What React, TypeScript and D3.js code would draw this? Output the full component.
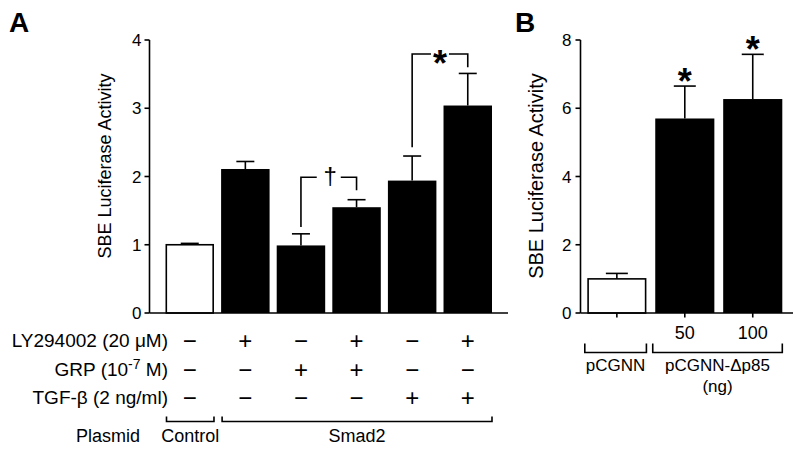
import React from 'react';
import * as d3 from 'd3';

// ---------- Panel A data ----------
const conditionsA = ['Control', 'LY', 'GRP', 'LY+GRP', 'TGF', 'LY+TGF'];
const valuesA = [1.0, 2.11, 0.99, 1.55, 1.94, 3.04];
const errorsA = [0.02, 0.11, 0.17, 0.11, 0.36, 0.47];
const filledA = [false, true, true, true, true, true];
const ticksA = [0, 1, 2, 3, 4];
const lyRow = ['−', '+', '−', '+', '−', '+'];
const grpRow = ['−', '−', '+', '+', '−', '−'];
const tgfRow = ['−', '−', '−', '−', '+', '+'];
const groupsA = [
  { label: 'Control', from: 0, to: 0 },
  { label: 'Smad2', from: 1, to: 5 },
];
const sigA = [
  { a: 2, b: 3, top: 1.99, endA: 1.26, endB: 1.8, mark: '†' },
  { a: 4, b: 5, top: 3.795, endA: 2.43, endB: 3.6, mark: '*' },
];

// ---------- Panel B data ----------
const conditionsB = ['pCGNN', '50', '100'];
const tickLabelsB = ['', '50', '100'];
const valuesB = [1.0, 5.7, 6.27];
const errorsB = [0.16, 0.95, 1.31];
const filledB = [false, true, true];
const starredB = [false, true, true];
const ticksB = [0, 2, 4, 6, 8];
const groupsB = [
  { label: ['pCGNN'], from: 0, to: 0 },
  { label: ['pCGNN-Δp85', '(ng)'], from: 1, to: 2 },
];

const FONT = '"Liberation Sans", Arial, Helvetica, sans-serif';
const SW = 1.6;

export default function App() {
  const W = 800;
  const H = 452;

  // Panel A scales
  const yA = d3.scaleLinear().domain([0, 4]).range([313, 40]);
  const xA = d3
    .scaleBand<number>()
    .domain(d3.range(conditionsA.length))
    .range([165.5, 492])
    .paddingInner(0.128)
    .paddingOuter(0);
  const axA = 149.5;
  const bwA = xA.bandwidth();
  const cA = (i: number) => (xA(i) as number) + bwA / 2;

  // Panel B scales
  const yB = d3.scaleLinear().domain([0, 8]).range([313, 40]);
  const xB = d3
    .scaleBand<number>()
    .domain(d3.range(conditionsB.length))
    .range([587.3, 782.3])
    .paddingInner(0.13)
    .paddingOuter(0);
  const axB = 580.5;
  const bwB = xB.bandwidth();
  const cB = (i: number) => (xB(i) as number) + bwB / 2;

  const rowsA = [
    { label: 'LY294002 (20 μM)', vals: lyRow, y: 347 },
    { label: null, vals: grpRow, y: 375.5 },
    { label: 'TGF-β (2 ng/ml)', vals: tgfRow, y: 403.5 },
  ];

  return (
    <svg
      width={W}
      height={H}
      style={{ position: 'absolute', left: 0, top: 0, background: '#fff' }}
      fontFamily={FONT}
    >
      <rect x={0} y={0} width={W} height={H} fill="#fff" />

      {/* ================= Panel A ================= */}
      <text x={9} y={32} fontSize={28} fontWeight="bold">A</text>

      {/* y axis */}
      <line x1={axA} x2={axA} y1={yA(4)} y2={yA(0)} stroke="#000" strokeWidth={SW} />
      {ticksA.map((t) => (
        <g key={'ta' + t}>
          <line x1={axA - 5} x2={axA} y1={yA(t)} y2={yA(t)} stroke="#000" strokeWidth={SW} />
          <text x={axA - 8} y={yA(t)} dy="0.36em" textAnchor="end" fontSize={17}>{t}</text>
        </g>
      ))}
      <text
        transform={`translate(111,166) rotate(-90)`}
        textAnchor="middle"
        fontSize={18}
      >
        SBE Luciferase Activity
      </text>

      {/* bars */}
      {valuesA.map((v, i) => (
        <g key={'ba' + i}>
          <line x1={cA(i)} x2={cA(i)} y1={yA(v)} y2={yA(v + errorsA[i])} stroke="#000" strokeWidth={SW} />
          <line x1={cA(i) - 9} x2={cA(i) + 9} y1={yA(v + errorsA[i])} y2={yA(v + errorsA[i])} stroke="#000" strokeWidth={SW} />
          <rect
            x={(xA(i) as number) + (filledA[i] ? 0 : SW / 2)}
            y={yA(v)}
            width={bwA - (filledA[i] ? 0 : SW)}
            height={yA(0) - yA(v)}
            fill={filledA[i] ? '#000' : '#fff'}
            stroke="#000"
            strokeWidth={filledA[i] ? 0 : SW}
          />
        </g>
      ))}
      {/* x axis */}
      <line x1={axA} x2={508} y1={yA(0)} y2={yA(0)} stroke="#000" strokeWidth={SW} />

      {/* significance brackets */}
      {sigA.map((s, k) => {
        const xa = cA(s.a);
        const xb = cA(s.b);
        const mid = (xa + xb) / 2;
        const gap = s.mark === '*' ? 9 : 12;
        const yt = yA(s.top);
        return (
          <g key={'sig' + k} fill="none" stroke="#000" strokeWidth={SW}>
            <polyline points={`${xa},${yA(s.endA)} ${xa},${yt} ${mid - gap},${yt}`} />
            <polyline points={`${mid + gap},${yt} ${xb},${yt} ${xb},${yA(s.endB)}`} />
            {s.mark === '*' ? (
              <text x={mid} y={yt + 22} textAnchor="middle" fontSize={36} fontWeight="bold" fill="#000" stroke="none">*</text>
            ) : (
              <text x={mid + 1.5} y={yt + 7} textAnchor="middle" fontSize={24} fill="#000" stroke="none">†</text>
            )}
          </g>
        );
      })}

      {/* condition table */}
      {rowsA.map((r, k) => (
        <g key={'row' + k} fontSize={19}>
          {r.label !== null ? (
            <text x={168} y={r.y} textAnchor="end">{r.label}</text>
          ) : (
            <text x={168} y={r.y} textAnchor="end">
              GRP (10
              <tspan dy={-7} fontSize={14}>-7</tspan>
              <tspan dy={7}> M)</tspan>
            </text>
          )}
          {r.vals.map((s, i) => (
            <text key={i} x={cA(i)} y={r.y + 2} textAnchor="middle" fontSize={24}>{s}</text>
          ))}
        </g>
      ))}

      {/* plasmid groups */}
      <text x={140} y={442} textAnchor="end" fontSize={18}>Plasmid</text>
      {groupsA.map((g, k) => {
        const x1 = (xA(g.from) as number) + 1;
        const x2 = (xA(g.to) as number) + bwA;
        return (
          <g key={'ga' + k}>
            <polyline
              points={`${x1},416.5 ${x1},421.5 ${x2},421.5 ${x2},416.5`}
              fill="none"
              stroke="#000"
              strokeWidth={SW}
            />
            <text x={(x1 + x2) / 2} y={442} textAnchor="middle" fontSize={18}>{g.label}</text>
          </g>
        );
      })}

      {/* ================= Panel B ================= */}
      <text x={515} y={32} fontSize={28} fontWeight="bold">B</text>

      <line x1={axB} x2={axB} y1={yB(8)} y2={yB(0)} stroke="#000" strokeWidth={SW} />
      {ticksB.map((t) => (
        <g key={'tb' + t}>
          <line x1={axB - 5} x2={axB} y1={yB(t)} y2={yB(t)} stroke="#000" strokeWidth={SW} />
          <text x={axB - 9} y={yB(t)} dy="0.36em" textAnchor="end" fontSize={17}>{t}</text>
        </g>
      ))}
      <text
        transform={`translate(543,176) rotate(-90)`}
        textAnchor="middle"
        fontSize={20}
      >
        SBE Luciferase Activity
      </text>

      {valuesB.map((v, i) => (
        <g key={'bb' + i}>
          <line x1={cB(i)} x2={cB(i)} y1={yB(v)} y2={yB(v + errorsB[i])} stroke="#000" strokeWidth={SW} />
          <line x1={cB(i) - 11} x2={cB(i) + 11} y1={yB(v + errorsB[i])} y2={yB(v + errorsB[i])} stroke="#000" strokeWidth={SW} />
          <rect
            x={(xB(i) as number) + (filledB[i] ? 0 : SW / 2)}
            y={yB(v)}
            width={bwB - (filledB[i] ? 0 : SW)}
            height={yB(0) - yB(v)}
            fill={filledB[i] ? '#000' : '#fff'}
            stroke="#000"
            strokeWidth={filledB[i] ? 0 : SW}
          />
          {starredB[i] && (
            <text x={cB(i)} y={yB(v + errorsB[i]) + 8} textAnchor="middle" fontSize={36} fontWeight="bold">*</text>
          )}
          <line x1={cB(i)} x2={cB(i)} y1={yB(0)} y2={yB(0) + 4.5} stroke="#000" strokeWidth={SW} />
          <text x={cB(i)} y={338.5} textAnchor="middle" fontSize={18}>{tickLabelsB[i]}</text>
        </g>
      ))}
      <line x1={axB} x2={793} y1={yB(0)} y2={yB(0)} stroke="#000" strokeWidth={SW} />

      {groupsB.map((g, k) => {
        const x1 = (xB(g.from) as number) - 2.5;
        const x2 = (xB(g.to) as number) + bwB;
        return (
          <g key={'gb' + k}>
            <polyline
              points={`${x1},343.5 ${x1},352.5 ${x2},352.5 ${x2},343.5`}
              fill="none"
              stroke="#000"
              strokeWidth={SW}
            />
            {g.label.map((l, j) => (
              <text key={j} x={(x1 + x2) / 2} y={371 + j * 21} textAnchor="middle" fontSize={17}>{l}</text>
            ))}
          </g>
        );
      })}
    </svg>
  );
}
